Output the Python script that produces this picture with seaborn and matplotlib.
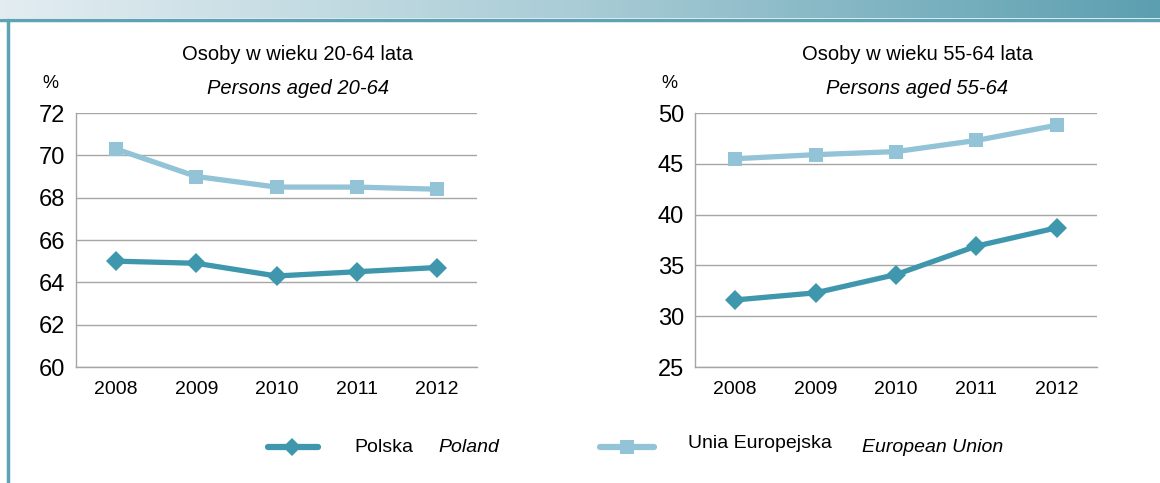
import numpy as np
import pandas as pd
import matplotlib
matplotlib.use('Agg')
import matplotlib.pyplot as plt
from matplotlib.lines import Line2D
from matplotlib.ticker import FixedLocator
import seaborn as sns

years = [2008, 2009, 2010, 2011, 2012]
poland_20_64 = [65.0, 64.9, 64.3, 64.5, 64.7]
eu_20_64 = [70.3, 69.0, 68.5, 68.5, 68.4]
poland_55_64 = [31.6, 32.3, 34.1, 36.9, 38.7]
eu_55_64 = [45.5, 45.9, 46.2, 47.3, 48.8]

sns.set_style('white')
plt.rcParams['font.family'] = ['Liberation Sans Narrow', 'Liberation Sans', 'DejaVu Sans']
plt.rcParams['text.color'] = 'black'
plt.rcParams['xtick.labelcolor'] = 'black'
plt.rcParams['ytick.labelcolor'] = 'black'

c_pl = '#3f97ad'
c_eu = '#92c3d6'
grid_c = '#a6a6a6'

fig = plt.figure(figsize=(11.6, 4.83), dpi=100)

# header band and frame
band = fig.add_axes([0.0, 1 - 18 / 483, 1.0, 18 / 483])
grad = np.linspace(0, 1, 256).reshape(1, -1)
cmap = matplotlib.colors.LinearSegmentedColormap.from_list('hdr', ['#e3edf1', '#a9ccd6', '#5c9fb0'])
band.imshow(grad, aspect='auto', cmap=cmap, extent=[0, 1, 0, 1])
band.axis('off')
fig.add_artist(Line2D([0, 1], [1 - 20 / 483, 1 - 20 / 483], color='#5ea3b3', lw=2.5, transform=fig.transFigure))
fig.add_artist(Line2D([8 / 1160, 8 / 1160], [0, 1 - 20 / 483], color='#5ea3b3', lw=2.5, transform=fig.transFigure))


def panel(rect, pl, eu, ylim, step, title_pl, title_en, tx):
    ax = fig.add_axes(rect)
    df = pd.DataFrame({'year': years * 2,
                       'val': pl + eu,
                       'series': ['PL'] * 5 + ['EU'] * 5})
    sns.lineplot(data=df, x='year', y='val', hue='series', style='series',
                 palette={'PL': c_pl, 'EU': c_eu},
                 markers={'PL': 'D', 'EU': 's'}, dashes=False,
                 markersize=10, linewidth=3.8, markeredgewidth=0,
                 legend=False, ax=ax)
    ax.set_xlim(2007.5, 2012.5)
    ax.set_ylim(*ylim)
    ax.set_yticks(np.arange(ylim[0], ylim[1] + 0.1, step))
    ax.set_xticks(years)
    ax.set_xticklabels([str(y) for y in years])
    ax.xaxis.set_minor_locator(FixedLocator(np.arange(2007.5, 2013, 1)))
    ax.tick_params(axis='x', which='major', length=0, labelsize=14, pad=10)
    ax.tick_params(axis='x', which='minor', length=5, color=grid_c, width=1, direction='out')
    ax.tick_params(axis='y', length=5, color=grid_c, width=1, labelsize=17, pad=3, direction='out')
    ax.grid(axis='y', color=grid_c, lw=1)
    for s in ['top', 'right']:
        ax.spines[s].set_visible(False)
    for s in ['left', 'bottom']:
        ax.spines[s].set_color(grid_c)
        ax.spines[s].set_linewidth(1)
    ax.set_xlabel('')
    ax.set_ylabel('')
    fig.text(tx / 1160, 1 - 55 / 483, title_pl, ha='center', va='center', fontsize=14.5)
    fig.text(tx / 1160, 1 - 88 / 483, title_en, ha='center', va='center', fontsize=14.5, style='italic')
    fig.text((rect[0] * 1160 - 26) / 1160, 1 - 84 / 483, '%', ha='center', va='center', fontsize=13)
    return ax


panel([76 / 1160, 1 - 367 / 483, 401 / 1160, 254 / 483], poland_20_64, eu_20_64,
      (60, 72), 2, 'Osoby w wieku 20-64 lata', 'Persons aged 20-64', 298)
panel([695 / 1160, 1 - 367 / 483, 402 / 1160, 254 / 483], poland_55_64, eu_55_64,
      (25, 50), 5, 'Osoby w wieku 55-64 lata', 'Persons aged 55-64', 917)

# legend
ly = 1 - 447 / 483
fig.add_artist(Line2D([268 / 1160, 292 / 1160, 318 / 1160], [ly, ly, ly], color=c_pl, lw=4.5,
                      marker='D', markersize=9, markevery=[1], markeredgewidth=0,
                      transform=fig.transFigure, solid_capstyle='round'))
fig.add_artist(Line2D([600 / 1160, 627 / 1160, 654 / 1160], [ly, ly, ly], color=c_eu, lw=4.5,
                      marker='s', markersize=10, markevery=[1], markeredgewidth=0,
                      transform=fig.transFigure, solid_capstyle='round'))
fig.text(354 / 1160, ly, 'Polska', ha='left', va='center', fontsize=14)
fig.text(438 / 1160, ly, 'Poland', ha='left', va='center', fontsize=14, style='italic')
fig.text(688 / 1160, 1 - 444 / 483, 'Unia Europejska', ha='left', va='center', fontsize=14)
fig.text(862 / 1160, ly, 'European Union', ha='left', va='center', fontsize=14, style='italic')

fig.savefig('out.png', dpi=100)
